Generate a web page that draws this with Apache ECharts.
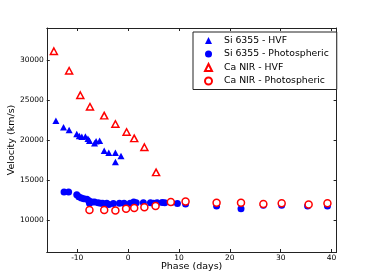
<!DOCTYPE html>
<html>
<head>
<meta charset="utf-8">
<script src="https://cdn.jsdelivr.net/npm/echarts@6/dist/echarts.min.js"></script>
<style>html,body{margin:0;padding:0;background:#fff;}#c{width:374px;height:280px;}</style>
</head>
<body>
<div id="c"></div>
<script>
var xTicks = [-10, 0, 10, 20, 30, 40];
var yTicks = [10000, 15000, 20000, 25000, 30000];

var siHvfPhase = [-14.2, -12.7, -11.6, -10.1, -9.6, -9.1, -8.4, -7.9, -7.6, -6.6, -6.3, -5.6, -4.7, -3.8, -2.5, -1.4, -2.5];
var siHvfVel   = [22400, 21600, 21250, 20750, 20500, 20400, 20450, 20150, 19900, 19600, 19850, 19900, 18650, 18400, 18400, 18000, 17250];

var siPhotPhase = [-12.6, -11.7, -10.1, -9.7, -9.2, -8.7, -8.1, -7.7, -7.6, -7.1, -6.6, -5.9, -5.4, -5.0, -4.2, -3.8, -2.9, -1.7, -0.8, 0.4, 1.1, 1.6, 3.0, 4.4, 5.0, 5.7, 6.7, 7.2, 8.5, 9.7, 11.3, 17.4, 22.2, 26.6, 30.2, 35.3, 39.2];
var siPhotVel   = [13500, 13500, 13150, 12900, 12750, 12650, 12600, 12400, 12100, 12250, 12250, 12150, 12100, 12100, 12100, 11950, 12050, 12100, 12100, 12100, 12250, 12150, 12150, 12150, 12100, 12150, 12200, 12150, 12200, 12050, 12000, 11750, 11400, 11850, 11850, 11750, 11750];

var caHvfPhase = [-14.6, -11.6, -9.4, -7.5, -4.7, -2.5, -0.3, 1.2, 3.2, 5.5];
var caHvfVel   = [31100, 28650, 25600, 24150, 23050, 22000, 21000, 20200, 19100, 15950];

var caPhotPhase = [-7.6, -4.7, -2.5, -0.4, 1.2, 3.2, 5.4, 8.4, 11.3, 17.4, 22.2, 26.6, 30.2, 35.5, 39.2];
var caPhotVel   = [11250, 11250, 11200, 11400, 11500, 11600, 11750, 12250, 12300, 12150, 12150, 12000, 12100, 11950, 12100];

var names = ['Si 6355 - HVF', 'Si 6355 - Photospheric', 'Ca NIR - HVF', 'Ca NIR - Photospheric'];

function pairs(xs, ys) { return xs.map(function (x, i) { return [x, ys[i]]; }); }

var FONT = 'DejaVu Sans';
var frame = '#222';
var tickLen = 3;
function plain(v) { return String(v); }

function baseAxis(extra) {
  var a = {
    type: 'value',
    axisLine: { show: true, onZero: false, lineStyle: { color: frame, width: 1 } },
    axisTick: { show: true, inside: true, length: tickLen, lineStyle: { color: frame, width: 1 } },
    splitLine: { show: false },
    axisLabel: { show: false }
  };
  for (var k in extra) a[k] = extra[k];
  return a;
}

var chart = echarts.init(document.getElementById('c'), null, { renderer: 'canvas' });
chart.setOption({
  animation: false,
  backgroundColor: '#fff',
  textStyle: { fontFamily: FONT },
  grid: { left: 46.75, top: 28, width: 289.85, height: 224, containLabel: false, outerBoundsMode: 'none' },
  xAxis: [
    baseAxis({
      position: 'bottom', min: -16, max: 41,
      axisTick: { show: true, inside: true, length: tickLen, customValues: xTicks, lineStyle: { color: frame, width: 1 } },
      axisLabel: { show: true, customValues: xTicks, formatter: plain, color: '#000', fontSize: 7.5, fontFamily: FONT, margin: 2 },
      name: 'Phase (days)', nameLocation: 'middle', nameGap: 10, nameMoveOverlap: false,
      nameTextStyle: { color: '#000', fontSize: 9.5, fontFamily: FONT }
    }),
    baseAxis({
      position: 'top', min: -16, max: 41,
      axisTick: { show: true, inside: true, length: tickLen, customValues: xTicks, lineStyle: { color: frame, width: 1 } }
    })
  ],
  yAxis: [
    baseAxis({
      position: 'left', min: 6000, max: 34000,
      axisTick: { show: true, inside: true, length: tickLen, customValues: yTicks, lineStyle: { color: frame, width: 1 } },
      axisLabel: { show: true, customValues: yTicks, formatter: plain, color: '#000', fontSize: 7.5, fontFamily: FONT, margin: 3 },
      name: 'Velocity (km/s)', nameLocation: 'middle', nameGap: 30, nameRotate: 90, nameMoveOverlap: false,
      nameTextStyle: { color: '#000', fontSize: 9.5, fontFamily: FONT }
    }),
    baseAxis({
      position: 'right', min: 6000, max: 34000,
      axisTick: { show: true, inside: true, length: tickLen, customValues: yTicks, lineStyle: { color: frame, width: 1 } }
    })
  ],
  legend: {
    orient: 'vertical',
    left: 193, top: 32,
    padding: [4, 8, 4, 11],
    itemWidth: 7, itemHeight: 7, itemGap: 4.5,
    borderColor: frame, borderWidth: 1, borderRadius: 0,
    backgroundColor: '#fff',
    textStyle: { color: '#000', fontSize: 9.3, fontFamily: FONT, padding: [0, 0, 0, 7], lineHeight: 9 },
    data: names
  },
  series: [
    {
      name: names[0], type: 'scatter', symbol: 'triangle', symbolSize: [7, 6.5],
      itemStyle: { color: '#0000ff', opacity: 1 },
      data: pairs(siHvfPhase, siHvfVel), z: 2
    },
    {
      name: names[1], type: 'scatter', symbol: 'circle', symbolSize: 7,
      itemStyle: { color: '#0000ff', opacity: 1 },
      data: pairs(siPhotPhase, siPhotVel), z: 3
    },
    {
      name: names[2], type: 'scatter', symbol: 'triangle', symbolSize: [7, 6.5],
      itemStyle: { color: '#ffffff', borderColor: '#ff0000', borderWidth: 1.5, opacity: 1 },
      data: pairs(caHvfPhase, caHvfVel), z: 4
    },
    {
      name: names[3], type: 'scatter', symbol: 'circle', symbolSize: 7,
      itemStyle: { color: '#ffffff', borderColor: '#ff0000', borderWidth: 1.5, opacity: 1 },
      data: pairs(caPhotPhase, caPhotVel), z: 5
    }
  ]
});
</script>
</body>
</html>
